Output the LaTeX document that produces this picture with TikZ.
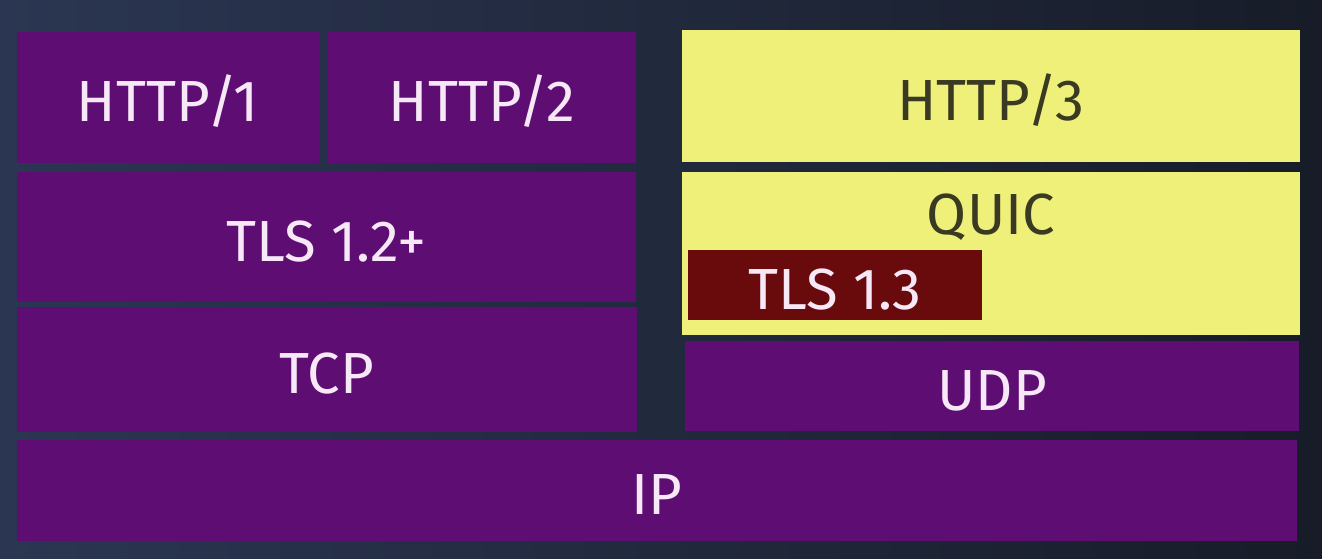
\documentclass[tikz,border=0pt]{standalone}
\usepackage{fontspec}
\setmainfont{Fira Sans}
\definecolor{bgnight}{HTML}{171C28}
\definecolor{bgglow}{HTML}{2B3652}
\definecolor{layerpurple}{HTML}{5E0E72}
\definecolor{quicyellow}{HTML}{EEF07A}
\definecolor{tlsred}{HTML}{690A0C}
\definecolor{labelwhite}{HTML}{F6E8F6}
\definecolor{quictext}{HTML}{3A3A22}
\tikzset{
  layer/.style={rectangle, fill=layerpurple, text=labelwhite, inner sep=0pt,
    outer sep=0pt, text height=24pt, text depth=0pt,
    font=\fontsize{29}{30}\selectfont},
  newlayer/.style={layer, fill=quicyellow, text=quictext},
  tlsbox/.style={layer, fill=tlsred},
}
\begin{document}
\begin{tikzpicture}[x=0.5pt, y=-0.5pt]
  \shade[left color=bgglow, right color=bgnight] (0,0) rectangle (1322,558);
  % left stack
  \node[layer, minimum width=151pt, minimum height=65.5pt] (http1) at (168,97.5) {HTTP/1};
  \node[layer, minimum width=154pt, minimum height=65.5pt] (http2) at (482,97.5) {HTTP/2};
  \node[layer, minimum width=309.5pt, minimum height=65pt] (tls12) at (326.5,237) {TLS 1.2+};
  \node[layer, minimum width=310pt, minimum height=62.5pt] (tcp) at (327,369.5) {TCP};
  % right stack
  \node[newlayer, minimum width=309pt, minimum height=66pt] (http3) at (991,96) {HTTP/3};
  \node[newlayer, minimum width=309pt, minimum height=81.5pt] (quic) at (991,253.5) {};
  \node[newlayer, fill=none] (quiclabel) at (991,210) {QUIC};
  \node[tlsbox, minimum width=147pt, minimum height=35pt] (tls13) at (835,285) {TLS 1.3};
  \node[layer, minimum width=307pt, minimum height=45pt] (udp) at (992,386) {UDP};
  % bottom
  \node[layer, minimum width=640pt, minimum height=50.5pt] (ip) at (657,490.5) {IP};
\end{tikzpicture}
\end{document}
